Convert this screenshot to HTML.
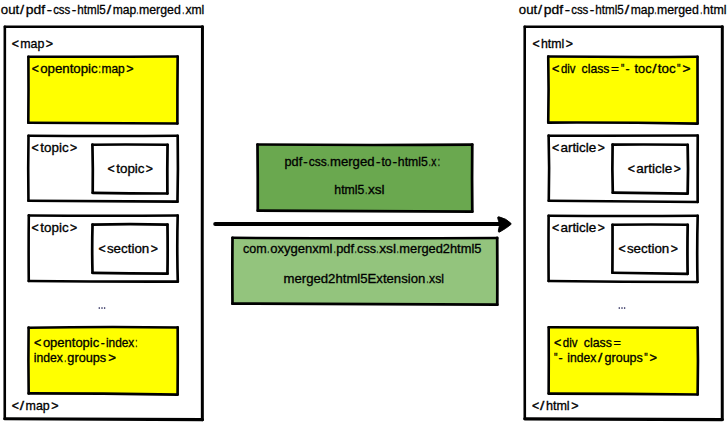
<!DOCTYPE html>
<html><head><meta charset="utf-8"><title>merged map to html5</title>
<style>
html,body{margin:0;padding:0;background:#fff;}
body{width:728px;height:422px;overflow:hidden;}
svg{display:block;}
text{font-family:"Liberation Sans", sans-serif;stroke:#000;stroke-width:0.3px;}
text.p{stroke-width:0.4px;}
text.d{stroke-width:0.55px;}
</style></head>
<body>
<svg width="728" height="422" viewBox="0 0 728 422">
<rect width="728" height="422" fill="#fff"/>
<g>
<path d="M4.84 26.81 Q103.65 26.94 202.45 26.79 Q202.10 223.23 202.35 419.67 Q103.56 419.63 4.77 418.75 Q4.60 222.78 4.84 26.81Z" fill="#fff" stroke="none"/>
<path d="M4.84 26.81 Q103.65 26.94 202.45 26.79" fill="none" stroke="#000" stroke-width="2.50" stroke-linecap="round"/>
<path d="M202.45 26.79 Q202.10 223.23 202.35 419.67" fill="none" stroke="#000" stroke-width="3.00" stroke-linecap="round"/>
<path d="M202.35 419.67 Q103.56 419.63 4.77 418.75" fill="none" stroke="#000" stroke-width="3.20" stroke-linecap="round"/>
<path d="M4.77 418.75 Q4.60 222.78 4.84 26.81" fill="none" stroke="#000" stroke-width="2.60" stroke-linecap="round"/>
<path d="M28.39 56.77 Q103.03 57.00 177.67 56.55 Q177.35 90.00 177.39 123.45 Q102.85 122.98 28.31 122.73 Q28.64 89.75 28.39 56.77Z" fill="#ffff00" stroke="none"/>
<path d="M28.39 56.77 Q103.03 57.00 177.67 56.55" fill="none" stroke="#000" stroke-width="2.50" stroke-linecap="round"/>
<path d="M177.67 56.55 Q177.35 90.00 177.39 123.45" fill="none" stroke="#000" stroke-width="2.65" stroke-linecap="round"/>
<path d="M177.39 123.45 Q102.85 122.98 28.31 122.73" fill="none" stroke="#000" stroke-width="2.65" stroke-linecap="round"/>
<path d="M28.31 122.73 Q28.64 89.75 28.39 56.77" fill="none" stroke="#000" stroke-width="2.60" stroke-linecap="round"/>
<path d="M28.50 135.68 Q103.09 136.14 177.68 135.75 Q178.25 168.72 177.47 201.69 Q102.96 201.18 28.45 200.78 Q27.95 168.23 28.50 135.68Z" fill="#fff" stroke="none"/>
<path d="M28.50 135.68 Q103.09 136.14 177.68 135.75" fill="none" stroke="#000" stroke-width="2.50" stroke-linecap="round"/>
<path d="M177.68 135.75 Q178.25 168.72 177.47 201.69" fill="none" stroke="#000" stroke-width="2.65" stroke-linecap="round"/>
<path d="M177.47 201.69 Q102.96 201.18 28.45 200.78" fill="none" stroke="#000" stroke-width="2.65" stroke-linecap="round"/>
<path d="M28.45 200.78 Q27.95 168.23 28.50 135.68" fill="none" stroke="#000" stroke-width="2.60" stroke-linecap="round"/>
<path d="M92.43 144.69 Q130.00 144.38 167.56 144.78 Q167.15 169.14 167.40 193.50 Q130.05 193.32 92.70 192.77 Q93.07 168.72 92.43 144.69Z" fill="#fff" stroke="none"/>
<path d="M92.43 144.69 Q130.00 144.38 167.56 144.78" fill="none" stroke="#000" stroke-width="2.60" stroke-linecap="round"/>
<path d="M167.56 144.78 Q167.15 169.14 167.40 193.50" fill="none" stroke="#000" stroke-width="2.75" stroke-linecap="round"/>
<path d="M167.40 193.50 Q130.05 193.32 92.70 192.77" fill="none" stroke="#000" stroke-width="2.75" stroke-linecap="round"/>
<path d="M92.70 192.77 Q93.07 168.72 92.43 144.69" fill="none" stroke="#000" stroke-width="2.70" stroke-linecap="round"/>
<path d="M28.80 215.39 Q103.25 216.08 177.70 215.46 Q176.84 248.53 177.80 281.60 Q103.28 281.76 28.76 280.98 Q28.48 248.19 28.80 215.39Z" fill="#fff" stroke="none"/>
<path d="M28.80 215.39 Q103.25 216.08 177.70 215.46" fill="none" stroke="#000" stroke-width="2.50" stroke-linecap="round"/>
<path d="M177.70 215.46 Q176.84 248.53 177.80 281.60" fill="none" stroke="#000" stroke-width="2.65" stroke-linecap="round"/>
<path d="M177.80 281.60 Q103.28 281.76 28.76 280.98" fill="none" stroke="#000" stroke-width="2.65" stroke-linecap="round"/>
<path d="M28.76 280.98 Q28.48 248.19 28.80 215.39" fill="none" stroke="#000" stroke-width="2.60" stroke-linecap="round"/>
<path d="M92.54 224.59 Q130.00 223.69 167.47 224.58 Q167.82 249.12 167.46 273.67 Q129.98 273.51 92.50 272.76 Q91.87 248.67 92.54 224.59Z" fill="#fff" stroke="none"/>
<path d="M92.54 224.59 Q130.00 223.69 167.47 224.58" fill="none" stroke="#000" stroke-width="2.60" stroke-linecap="round"/>
<path d="M167.47 224.58 Q167.82 249.12 167.46 273.67" fill="none" stroke="#000" stroke-width="2.75" stroke-linecap="round"/>
<path d="M167.46 273.67 Q129.98 273.51 92.50 272.76" fill="none" stroke="#000" stroke-width="2.75" stroke-linecap="round"/>
<path d="M92.50 272.76 Q91.87 248.67 92.54 224.59" fill="none" stroke="#000" stroke-width="2.70" stroke-linecap="round"/>
<path d="M28.61 327.63 Q103.15 326.66 177.69 327.41 Q177.86 361.00 177.61 394.59 Q103.14 393.56 28.67 393.44 Q28.19 360.53 28.61 327.63Z" fill="#ffff00" stroke="none"/>
<path d="M28.61 327.63 Q103.15 326.66 177.69 327.41" fill="none" stroke="#000" stroke-width="2.50" stroke-linecap="round"/>
<path d="M177.69 327.41 Q177.86 361.00 177.61 394.59" fill="none" stroke="#000" stroke-width="2.65" stroke-linecap="round"/>
<path d="M177.61 394.59 Q103.14 393.56 28.67 393.44" fill="none" stroke="#000" stroke-width="2.65" stroke-linecap="round"/>
<path d="M28.67 393.44 Q28.19 360.53 28.61 327.63" fill="none" stroke="#000" stroke-width="2.60" stroke-linecap="round"/>
<path d="M524.73 26.71 Q623.53 26.41 722.32 26.84 Q722.04 223.20 722.26 419.56 Q623.53 419.02 524.79 418.81 Q524.38 222.76 524.73 26.71Z" fill="#fff" stroke="none"/>
<path d="M524.73 26.71 Q623.53 26.41 722.32 26.84" fill="none" stroke="#000" stroke-width="2.50" stroke-linecap="round"/>
<path d="M722.32 26.84 Q722.04 223.20 722.26 419.56" fill="none" stroke="#000" stroke-width="3.00" stroke-linecap="round"/>
<path d="M722.26 419.56 Q623.53 419.02 524.79 418.81" fill="none" stroke="#000" stroke-width="3.20" stroke-linecap="round"/>
<path d="M524.79 418.81 Q524.38 222.76 524.73 26.71" fill="none" stroke="#000" stroke-width="2.60" stroke-linecap="round"/>
<path d="M548.22 56.58 Q622.87 57.35 697.52 56.87 Q697.52 90.23 697.60 123.59 Q622.92 122.29 548.23 122.60 Q548.92 89.59 548.22 56.58Z" fill="#ffff00" stroke="none"/>
<path d="M548.22 56.58 Q622.87 57.35 697.52 56.87" fill="none" stroke="#000" stroke-width="2.50" stroke-linecap="round"/>
<path d="M697.52 56.87 Q697.52 90.23 697.60 123.59" fill="none" stroke="#000" stroke-width="2.65" stroke-linecap="round"/>
<path d="M697.60 123.59 Q622.92 122.29 548.23 122.60" fill="none" stroke="#000" stroke-width="2.65" stroke-linecap="round"/>
<path d="M548.23 122.60 Q548.92 89.59 548.22 56.58" fill="none" stroke="#000" stroke-width="2.60" stroke-linecap="round"/>
<path d="M548.63 135.66 Q623.18 135.86 697.73 135.51 Q697.49 168.74 697.66 201.96 Q623.22 201.36 548.77 200.77 Q549.55 168.21 548.63 135.66Z" fill="#fff" stroke="none"/>
<path d="M548.63 135.66 Q623.18 135.86 697.73 135.51" fill="none" stroke="#000" stroke-width="2.50" stroke-linecap="round"/>
<path d="M697.73 135.51 Q697.49 168.74 697.66 201.96" fill="none" stroke="#000" stroke-width="2.65" stroke-linecap="round"/>
<path d="M697.66 201.96 Q623.22 201.36 548.77 200.77" fill="none" stroke="#000" stroke-width="2.65" stroke-linecap="round"/>
<path d="M548.77 200.77 Q549.55 168.21 548.63 135.66" fill="none" stroke="#000" stroke-width="2.60" stroke-linecap="round"/>
<path d="M612.61 144.64 Q650.13 144.35 687.64 144.77 Q688.39 169.16 687.66 193.54 Q650.22 193.08 612.79 192.67 Q612.07 168.65 612.61 144.64Z" fill="#fff" stroke="none"/>
<path d="M612.61 144.64 Q650.13 144.35 687.64 144.77" fill="none" stroke="#000" stroke-width="2.60" stroke-linecap="round"/>
<path d="M687.64 144.77 Q688.39 169.16 687.66 193.54" fill="none" stroke="#000" stroke-width="2.75" stroke-linecap="round"/>
<path d="M687.66 193.54 Q650.22 193.08 612.79 192.67" fill="none" stroke="#000" stroke-width="2.75" stroke-linecap="round"/>
<path d="M612.79 192.67 Q612.07 168.65 612.61 144.64" fill="none" stroke="#000" stroke-width="2.70" stroke-linecap="round"/>
<path d="M548.62 215.71 Q623.16 216.19 697.70 215.75 Q696.83 248.87 697.51 282.00 Q623.07 281.91 548.63 281.00 Q548.38 248.35 548.62 215.71Z" fill="#fff" stroke="none"/>
<path d="M548.62 215.71 Q623.16 216.19 697.70 215.75" fill="none" stroke="#000" stroke-width="2.50" stroke-linecap="round"/>
<path d="M697.70 215.75 Q696.83 248.87 697.51 282.00" fill="none" stroke="#000" stroke-width="2.65" stroke-linecap="round"/>
<path d="M697.51 282.00 Q623.07 281.91 548.63 281.00" fill="none" stroke="#000" stroke-width="2.65" stroke-linecap="round"/>
<path d="M548.63 281.00 Q548.38 248.35 548.62 215.71" fill="none" stroke="#000" stroke-width="2.60" stroke-linecap="round"/>
<path d="M612.53 224.80 Q650.11 224.33 687.69 224.78 Q687.24 249.27 687.62 273.76 Q650.00 273.38 612.39 272.75 Q612.57 248.78 612.53 224.80Z" fill="#fff" stroke="none"/>
<path d="M612.53 224.80 Q650.11 224.33 687.69 224.78" fill="none" stroke="#000" stroke-width="2.60" stroke-linecap="round"/>
<path d="M687.69 224.78 Q687.24 249.27 687.62 273.76" fill="none" stroke="#000" stroke-width="2.75" stroke-linecap="round"/>
<path d="M687.62 273.76 Q650.00 273.38 612.39 272.75" fill="none" stroke="#000" stroke-width="2.75" stroke-linecap="round"/>
<path d="M612.39 272.75 Q612.57 248.78 612.53 224.80" fill="none" stroke="#000" stroke-width="2.70" stroke-linecap="round"/>
<path d="M548.68 327.33 Q623.11 327.54 697.55 327.64 Q698.31 361.07 697.64 394.51 Q623.15 393.69 548.66 393.55 Q548.85 360.44 548.68 327.33Z" fill="#ffff00" stroke="none"/>
<path d="M548.68 327.33 Q623.11 327.54 697.55 327.64" fill="none" stroke="#000" stroke-width="2.50" stroke-linecap="round"/>
<path d="M697.55 327.64 Q698.31 361.07 697.64 394.51" fill="none" stroke="#000" stroke-width="2.65" stroke-linecap="round"/>
<path d="M697.64 394.51 Q623.15 393.69 548.66 393.55" fill="none" stroke="#000" stroke-width="2.65" stroke-linecap="round"/>
<path d="M548.66 393.55 Q548.85 360.44 548.68 327.33" fill="none" stroke="#000" stroke-width="2.60" stroke-linecap="round"/>
<path d="M257.49 144.50 Q364.87 145.42 472.26 144.63 Q471.85 178.13 472.29 211.62 Q365.03 211.05 257.78 210.66 Q257.87 177.58 257.49 144.50Z" fill="#6aa84f" stroke="none"/>
<path d="M257.49 144.50 Q364.87 145.42 472.26 144.63" fill="none" stroke="#000" stroke-width="2.60" stroke-linecap="round"/>
<path d="M472.26 144.63 Q471.85 178.13 472.29 211.62" fill="none" stroke="#000" stroke-width="2.75" stroke-linecap="round"/>
<path d="M472.29 211.62 Q365.03 211.05 257.78 210.66" fill="none" stroke="#000" stroke-width="2.75" stroke-linecap="round"/>
<path d="M257.78 210.66 Q257.87 177.58 257.49 144.50" fill="none" stroke="#000" stroke-width="2.70" stroke-linecap="round"/>
<path d="M232.50 237.81 Q364.85 238.80 497.19 237.99 Q497.40 271.33 497.29 304.66 Q364.88 304.74 232.48 303.66 Q232.21 270.73 232.50 237.81Z" fill="#93c47d" stroke="none"/>
<path d="M232.50 237.81 Q364.85 238.80 497.19 237.99" fill="none" stroke="#000" stroke-width="2.60" stroke-linecap="round"/>
<path d="M497.19 237.99 Q497.40 271.33 497.29 304.66" fill="none" stroke="#000" stroke-width="2.75" stroke-linecap="round"/>
<path d="M497.29 304.66 Q364.88 304.74 232.48 303.66" fill="none" stroke="#000" stroke-width="2.75" stroke-linecap="round"/>
<path d="M232.48 303.66 Q232.21 270.73 232.50 237.81" fill="none" stroke="#000" stroke-width="2.70" stroke-linecap="round"/>
<path d="M215.2 223.95 L500 223.95" stroke="#000" stroke-width="4.0" stroke-linecap="round" fill="none"/>
<path d="M497.8 218.4 Q497.3 216.6 498.9 216.8 Q506.6 218.6 510.9 223.3 Q511.5 224.0 510.8 224.6 Q505.5 228.8 499.8 231.9 Q498.4 232.6 498.3 231.2 Q498.5 228.5 499.4 226.0 L498.9 222.0 Q498.3 220.2 497.8 218.4Z" fill="#000" stroke="#000" stroke-width="0.9" stroke-linejoin="round"/>
</g>
<g>
<g>
<text transform="translate(0.82 14.05) scale(1.0186 1)" font-size="13.00" fill="#000">out</text>
<text transform="translate(20.10 14.05) scale(1.1264 1)" font-size="13.00" fill="#000">/</text>
<text transform="translate(25.82 14.05) scale(1.0709 1)" font-size="13.00" fill="#000">pdf</text>
<text transform="translate(46.80 14.05) scale(1.2170 1)" font-size="13.00" fill="#000" class="p">-</text>
<text transform="translate(53.13 14.05) scale(0.8840 1)" font-size="13.00" fill="#000">css</text>
<text transform="translate(71.80 14.05) scale(1.0333 1)" font-size="13.00" fill="#000" class="p">-</text>
<text transform="translate(77.30 14.05) scale(0.8932 1)" font-size="13.00" fill="#000">html5</text>
<text transform="translate(106.80 14.05) scale(1.2363 1)" font-size="13.00" fill="#000">/</text>
<text transform="translate(112.78 14.05) scale(0.9312 1)" font-size="13.00" fill="#000">map</text>
<text transform="translate(136.70 14.05) scale(0.3846 1)" font-size="13.00" fill="#000" class="d">.</text>
<text transform="translate(139.00 14.05) scale(0.9484 1)" font-size="13.00" fill="#000">merged</text>
<text transform="translate(182.40 14.05) scale(0.4121 1)" font-size="13.00" fill="#000" class="d">.</text>
<text transform="translate(185.39 14.05) scale(0.9362 1)" font-size="13.00" fill="#000">xml</text>
</g>
<g>
<text transform="translate(518.82 14.05) scale(1.0188 1)" font-size="13.00" fill="#000">out</text>
<text transform="translate(538.10 14.05) scale(1.1264 1)" font-size="13.00" fill="#000">/</text>
<text transform="translate(543.82 14.05) scale(1.0711 1)" font-size="13.00" fill="#000">pdf</text>
<text transform="translate(564.80 14.05) scale(1.2170 1)" font-size="13.00" fill="#000" class="p">-</text>
<text transform="translate(571.13 14.05) scale(0.8842 1)" font-size="13.00" fill="#000">css</text>
<text transform="translate(589.80 14.05) scale(1.0333 1)" font-size="13.00" fill="#000" class="p">-</text>
<text transform="translate(595.30 14.05) scale(0.8934 1)" font-size="13.00" fill="#000">html5</text>
<text transform="translate(624.80 14.05) scale(1.2363 1)" font-size="13.00" fill="#000">/</text>
<text transform="translate(630.77 14.05) scale(0.9314 1)" font-size="13.00" fill="#000">map</text>
<text transform="translate(654.70 14.05) scale(0.3846 1)" font-size="13.00" fill="#000" class="d">.</text>
<text transform="translate(657.00 14.05) scale(0.9486 1)" font-size="13.00" fill="#000">merged</text>
<text transform="translate(700.40 14.05) scale(0.4121 1)" font-size="13.00" fill="#000" class="d">.</text>
<text transform="translate(703.10 14.05) scale(0.9521 1)" font-size="13.00" fill="#000">html</text>
</g>
<g>
<text transform="translate(11.70 47.55) scale(1.0088 1)" font-size="12.20" fill="#000" class="p">&lt;</text>
<text transform="translate(20.20 47.55) scale(1.0156 1)" font-size="12.20" fill="#000">map</text>
<text transform="translate(45.80 47.55) scale(1.0228 1)" font-size="12.20" fill="#000" class="p">&gt;</text>
</g>
<g>
<text transform="translate(11.80 409.65) scale(1.0088 1)" font-size="12.20" fill="#000" class="p">&lt;</text>
<text transform="translate(19.80 409.65) scale(1.2881 1)" font-size="12.20" fill="#000">/</text>
<text transform="translate(25.60 409.65) scale(1.0198 1)" font-size="12.20" fill="#000">map</text>
<text transform="translate(51.30 409.65) scale(1.0228 1)" font-size="12.20" fill="#000" class="p">&gt;</text>
</g>
<g>
<text transform="translate(31.80 73.25) scale(0.9948 1)" font-size="12.20" fill="#000" class="p">&lt;</text>
<text transform="translate(40.20 73.25) scale(1.0874 1)" font-size="12.20" fill="#000">opentopic</text>
<text transform="translate(98.70 73.25) scale(0.5269 1)" font-size="12.20" fill="#000" class="d">:</text>
<text transform="translate(101.50 73.25) scale(0.9816 1)" font-size="12.20" fill="#000">map</text>
<text transform="translate(126.20 73.25) scale(1.0228 1)" font-size="12.20" fill="#000" class="p">&gt;</text>
</g>
<g>
<text transform="translate(31.60 151.65) scale(1.0088 1)" font-size="12.20" fill="#000" class="p">&lt;</text>
<text transform="translate(40.30 151.65) scale(1.0994 1)" font-size="12.20" fill="#000">topic</text>
<text transform="translate(69.90 151.65) scale(1.0088 1)" font-size="12.20" fill="#000" class="p">&gt;</text>
</g>
<g>
<text transform="translate(107.50 172.65) scale(1.0088 1)" font-size="12.20" fill="#000" class="p">&lt;</text>
<text transform="translate(116.20 172.65) scale(1.0994 1)" font-size="12.20" fill="#000">topic</text>
<text transform="translate(145.80 172.65) scale(1.0088 1)" font-size="12.20" fill="#000" class="p">&gt;</text>
</g>
<g>
<text transform="translate(31.60 231.65) scale(1.0088 1)" font-size="12.20" fill="#000" class="p">&lt;</text>
<text transform="translate(40.30 231.65) scale(1.0994 1)" font-size="12.20" fill="#000">topic</text>
<text transform="translate(69.90 231.65) scale(1.0088 1)" font-size="12.20" fill="#000" class="p">&gt;</text>
</g>
<g>
<text transform="translate(98.50 252.65) scale(1.0088 1)" font-size="12.20" fill="#000" class="p">&lt;</text>
<text transform="translate(106.90 252.65) scale(1.0963 1)" font-size="12.20" fill="#000">section</text>
<text transform="translate(150.80 252.65) scale(1.0088 1)" font-size="12.20" fill="#000" class="p">&gt;</text>
</g>
<rect x="98.65" y="307.1" width="1.3" height="1.9" fill="#3a3a66" opacity="0.85"/><rect x="101.35" y="307.1" width="1.3" height="1.9" fill="#3a3a66" opacity="0.85"/><rect x="103.95" y="307.1" width="1.3" height="1.9" fill="#3a3a66" opacity="0.85"/>
<g>
<text transform="translate(33.90 346.85) scale(1.0228 1)" font-size="12.20" fill="#000" class="p">&lt;</text>
<text transform="translate(42.90 346.85) scale(1.0647 1)" font-size="12.20" fill="#000">opentopic</text>
<text transform="translate(100.80 346.85) scale(0.9787 1)" font-size="12.20" fill="#000" class="p">-</text>
<text transform="translate(105.90 346.85) scale(0.9737 1)" font-size="12.20" fill="#000">index</text>
<text transform="translate(135.50 346.85) scale(0.4977 1)" font-size="12.20" fill="#000" class="d">:</text>
</g>
<g>
<text transform="translate(33.86 362.45) scale(0.9974 1)" font-size="12.20" fill="#000">index</text>
<text transform="translate(64.40 362.45) scale(0.4098 1)" font-size="12.20" fill="#000" class="d">.</text>
<text transform="translate(67.34 362.45) scale(1.0425 1)" font-size="12.20" fill="#000">groups</text>
<text transform="translate(108.30 362.45) scale(1.0789 1)" font-size="12.20" fill="#000" class="p">&gt;</text>
</g>
<g>
<text transform="translate(284.52 165.85) scale(1.0416 1)" font-size="12.20" fill="#000">pdf</text>
<text transform="translate(303.30 165.85) scale(1.0766 1)" font-size="12.20" fill="#000" class="p">-</text>
<text transform="translate(308.77 165.85) scale(0.9924 1)" font-size="12.20" fill="#000">css</text>
<text transform="translate(327.60 165.85) scale(0.4098 1)" font-size="12.20" fill="#000" class="d">.</text>
<text transform="translate(330.03 165.85) scale(1.0772 1)" font-size="12.20" fill="#000">merged</text>
<text transform="translate(376.10 165.85) scale(1.1011 1)" font-size="12.20" fill="#000" class="p">-</text>
<text transform="translate(381.48 165.85) scale(0.9857 1)" font-size="12.20" fill="#000">to</text>
<text transform="translate(392.60 165.85) scale(1.1255 1)" font-size="12.20" fill="#000" class="p">-</text>
<text transform="translate(397.87 165.85) scale(1.0044 1)" font-size="12.20" fill="#000">html5</text>
<text transform="translate(428.90 165.85) scale(0.4098 1)" font-size="12.20" fill="#000" class="d">.</text>
<text transform="translate(431.34 165.85) scale(0.8400 1)" font-size="12.20" fill="#000">x</text>
<text transform="translate(438.00 165.85) scale(0.5269 1)" font-size="12.20" fill="#000" class="d">:</text>
</g>
<g>
<text transform="translate(334.34 193.85) scale(1.0066 1)" font-size="12.20" fill="#000">html5</text>
<text transform="translate(365.40 193.85) scale(0.4098 1)" font-size="12.20" fill="#000" class="d">.</text>
<text transform="translate(367.96 193.85) scale(1.1203 1)" font-size="12.20" fill="#000">xsl</text>
</g>
<g>
<text transform="translate(242.96 252.95) scale(1.0272 1)" font-size="12.20" fill="#000">com</text>
<text transform="translate(267.60 252.95) scale(0.4391 1)" font-size="12.20" fill="#000" class="d">.</text>
<text transform="translate(270.13 252.95) scale(1.0706 1)" font-size="12.20" fill="#000">oxygenxml</text>
<text transform="translate(333.90 252.95) scale(0.4098 1)" font-size="12.20" fill="#000" class="d">.</text>
<text transform="translate(336.20 252.95) scale(1.0561 1)" font-size="12.20" fill="#000">pdf</text>
<text transform="translate(355.00 252.95) scale(0.3806 1)" font-size="12.20" fill="#000" class="d">.</text>
<text transform="translate(357.08 252.95) scale(1.0405 1)" font-size="12.20" fill="#000">css</text>
<text transform="translate(376.80 252.95) scale(0.4098 1)" font-size="12.20" fill="#000" class="d">.</text>
<text transform="translate(379.16 252.95) scale(1.1340 1)" font-size="12.20" fill="#000">xsl</text>
<text transform="translate(397.00 252.95) scale(0.4098 1)" font-size="12.20" fill="#000" class="d">.</text>
<text transform="translate(399.28 252.95) scale(1.0550 1)" font-size="12.20" fill="#000">merged2html5</text>
</g>
<g>
<text transform="translate(283.56 282.55) scale(1.0784 1)" font-size="12.20" fill="#000">merged2html5Extension</text>
<text transform="translate(426.80 282.55) scale(0.4098 1)" font-size="12.20" fill="#000" class="d">.</text>
<text transform="translate(429.04 282.55) scale(1.0020 1)" font-size="12.20" fill="#000">xsl</text>
</g>
<g>
<text transform="translate(532.40 47.65) scale(1.0088 1)" font-size="12.20" fill="#000" class="p">&lt;</text>
<text transform="translate(541.00 47.65) scale(1.0105 1)" font-size="12.20" fill="#000">html</text>
<text transform="translate(565.70 47.65) scale(1.0088 1)" font-size="12.20" fill="#000" class="p">&gt;</text>
</g>
<g>
<text transform="translate(532.00 409.75) scale(1.0088 1)" font-size="12.20" fill="#000" class="p">&lt;</text>
<text transform="translate(540.00 409.75) scale(1.2881 1)" font-size="12.20" fill="#000">/</text>
<text transform="translate(545.90 409.75) scale(1.0322 1)" font-size="12.20" fill="#000">html</text>
<text transform="translate(571.20 409.75) scale(1.0228 1)" font-size="12.20" fill="#000" class="p">&gt;</text>
</g>
<g>
<text transform="translate(551.90 73.05) scale(1.0369 1)" font-size="12.20" fill="#000" class="p">&lt;</text>
<text transform="translate(560.93 73.05) scale(0.9316 1)" font-size="12.20" fill="#000">div</text>
<text transform="translate(581.58 73.05) scale(1.0012 1)" font-size="12.20" fill="#000">class</text>
<text transform="translate(610.90 73.05) scale(1.1069 1)" font-size="12.20" fill="#000">=</text>
<text transform="translate(621.10 73.05) scale(0.7619 1)" font-size="12.20" fill="#000">&quot;</text>
<text transform="translate(625.50 73.05) scale(0.9787 1)" font-size="12.20" fill="#000" class="p">-</text>
<text transform="translate(634.53 73.05) scale(1.0466 1)" font-size="12.20" fill="#000">toc</text>
<text transform="translate(652.20 73.05) scale(1.2588 1)" font-size="12.20" fill="#000">/</text>
<text transform="translate(657.77 73.05) scale(1.0964 1)" font-size="12.20" fill="#000">toc</text>
<text transform="translate(676.90 73.05) scale(0.8081 1)" font-size="12.20" fill="#000">&quot;</text>
<text transform="translate(682.40 73.05) scale(1.1209 1)" font-size="12.20" fill="#000" class="p">&gt;</text>
</g>
<g>
<text transform="translate(551.90 151.75) scale(1.0088 1)" font-size="12.20" fill="#000" class="p">&lt;</text>
<text transform="translate(560.40 151.75) scale(1.1052 1)" font-size="12.20" fill="#000">article</text>
<text transform="translate(597.80 151.75) scale(0.9948 1)" font-size="12.20" fill="#000" class="p">&gt;</text>
</g>
<g>
<text transform="translate(627.80 172.65) scale(1.0088 1)" font-size="12.20" fill="#000" class="p">&lt;</text>
<text transform="translate(636.30 172.65) scale(1.1052 1)" font-size="12.20" fill="#000">article</text>
<text transform="translate(673.70 172.65) scale(0.9948 1)" font-size="12.20" fill="#000" class="p">&gt;</text>
</g>
<g>
<text transform="translate(551.90 231.75) scale(1.0088 1)" font-size="12.20" fill="#000" class="p">&lt;</text>
<text transform="translate(560.40 231.75) scale(1.1052 1)" font-size="12.20" fill="#000">article</text>
<text transform="translate(597.80 231.75) scale(0.9948 1)" font-size="12.20" fill="#000" class="p">&gt;</text>
</g>
<g>
<text transform="translate(618.50 252.65) scale(1.0088 1)" font-size="12.20" fill="#000" class="p">&lt;</text>
<text transform="translate(626.90 252.65) scale(1.0963 1)" font-size="12.20" fill="#000">section</text>
<text transform="translate(670.80 252.65) scale(1.0088 1)" font-size="12.20" fill="#000" class="p">&gt;</text>
</g>
<rect x="618.65" y="307.1" width="1.3" height="1.9" fill="#3a3a66" opacity="0.85"/><rect x="621.35" y="307.1" width="1.3" height="1.9" fill="#3a3a66" opacity="0.85"/><rect x="623.95" y="307.1" width="1.3" height="1.9" fill="#3a3a66" opacity="0.85"/>
<g>
<text transform="translate(553.90 346.85) scale(1.0228 1)" font-size="12.20" fill="#000" class="p">&lt;</text>
<text transform="translate(562.76 346.85) scale(0.9460 1)" font-size="12.20" fill="#000">div</text>
<text transform="translate(583.84 346.85) scale(1.0112 1)" font-size="12.20" fill="#000">class</text>
<text transform="translate(613.60 346.85) scale(1.0369 1)" font-size="12.20" fill="#000">=</text>
</g>
<g>
<text transform="translate(553.90 362.45) scale(0.8081 1)" font-size="12.20" fill="#000">&quot;</text>
<text transform="translate(558.50 362.45) scale(1.0032 1)" font-size="12.20" fill="#000" class="p">-</text>
<text transform="translate(567.27 362.45) scale(0.9965 1)" font-size="12.20" fill="#000">index</text>
<text transform="translate(598.00 362.45) scale(1.2881 1)" font-size="12.20" fill="#000">/</text>
<text transform="translate(604.53 362.45) scale(1.0271 1)" font-size="12.20" fill="#000">groups</text>
<text transform="translate(644.30 362.45) scale(0.7850 1)" font-size="12.20" fill="#000">&quot;</text>
<text transform="translate(649.50 362.45) scale(1.0509 1)" font-size="12.20" fill="#000" class="p">&gt;</text>
</g>
</g>
</svg>
</body></html>
